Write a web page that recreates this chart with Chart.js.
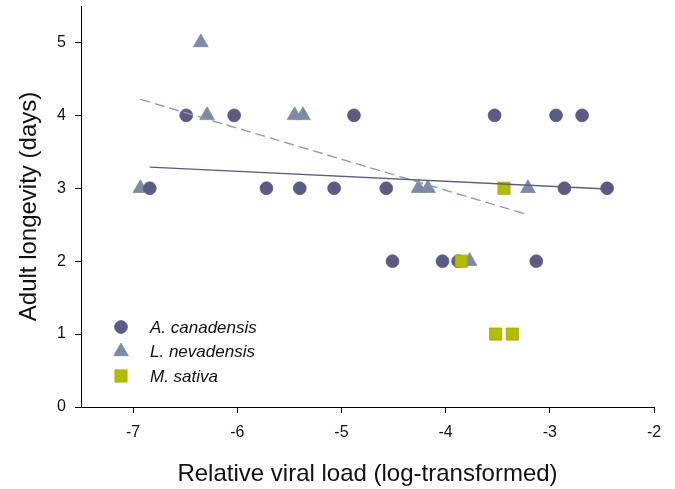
<!DOCTYPE html>
<html>
<head>
<meta charset="utf-8">
<script src="https://cdn.jsdelivr.net/npm/chart.js@4.4.1/dist/chart.umd.min.js"></script>
<style>
  html, body { margin: 0; padding: 0; background: #fff; }
  #wrap { width: 675px; height: 489px; position: relative; }
</style>
</head>
<body>
<div id="wrap"><canvas id="c" width="675" height="489"></canvas></div>
<script>
// Adult longevity (days) against relative viral load (log-transformed), by host plant species
const speciesNames = ['A. canadensis', 'L. nevadensis', 'M. sativa'];

const canadensisLoad = [-6.84, -6.49, -6.03, -5.72, -5.40, -5.07, -4.88, -4.57, -4.51, -4.03, -3.88, -3.53, -3.13, -2.94, -2.86, -2.69, -2.45];
const canadensisDays = [3, 4, 4, 3, 3, 3, 4, 3, 2, 2, 2, 4, 2, 4, 3, 4, 3];

const nevadensisLoad = [-6.93, -6.35, -6.29, -5.45, -5.37, -4.26, -4.17, -3.77, -3.21];
const nevadensisDays = [3, 5, 4, 4, 4, 3, 3, 2, 3];

const sativaLoad = [-3.85, -3.52, -3.44, -3.36];
const sativaDays = [2, 1, 3, 1];

// Fitted regression lines (end points)
const canadensisFitLoad = [-6.84, -2.45];
const canadensisFitDays = [3.29, 2.99];
const nevadensisFitLoad = [-6.93, -3.24];
const nevadensisFitDays = [4.22, 2.65];

const xTicks = [-7, -6, -5, -4, -3, -2];
const yTicks = [0, 1, 2, 3, 4, 5];

const toPoints = (xs, ys) => xs.map((x, i) => ({ x: x, y: ys[i] }));

const COL_CIRCLE = '#5b5b84';
const COL_TRI = '#7c8ba5';
const COL_SQ = '#b4bc00';
const FONT = 'Arial, "Liberation Sans", sans-serif';

// Legend drawn inside the plotting area
const innerLegend = {
  id: 'innerLegend',
  afterDatasetsDraw(chart) {
    const ctx = chart.ctx;
    const items = chart.data.datasets.filter(d => d.inLegend).sort((a, b) => a.legendIndex - b.legendIndex);
    const x0 = 121, textX = 150, y0 = 327, step = 24.5;
    ctx.save();
    items.forEach((ds, i) => {
      const y = y0 + i * step;
      ctx.fillStyle = ds.backgroundColor;
      ctx.strokeStyle = ds.borderColor;
      ctx.lineWidth = ds.borderWidth;
      Chart.helpers.drawPoint(ctx, {
        pointStyle: ds.pointStyle,
        radius: ds.pointRadius,
        borderWidth: ds.borderWidth
      }, x0, y);
      ctx.fillStyle = '#111';
      ctx.font = 'italic 17px ' + FONT;
      ctx.textBaseline = 'middle';
      ctx.textAlign = 'left';
      ctx.fillText(ds.label, textX, y + 1);
    });
    ctx.restore();
  }
};

new Chart(document.getElementById('c'), {
  type: 'scatter',
  data: {
    datasets: [
      {
        label: speciesNames[0] + ' fit',
        type: 'line',
        data: toPoints(canadensisFitLoad, canadensisFitDays),
        borderColor: COL_CIRCLE,
        borderWidth: 1.4,
        pointRadius: 0,
        showLine: true,
        fill: false,
        order: 0
      },
      {
        label: speciesNames[1] + ' fit',
        type: 'line',
        data: toPoints(nevadensisFitLoad, nevadensisFitDays),
        borderColor: '#8d9cbb',
        borderWidth: 1.4,
        borderDash: [10, 5],
        pointRadius: 0,
        showLine: true,
        fill: false,
        order: 0
      },
      {
        label: speciesNames[2],
        data: toPoints(sativaLoad, sativaDays),
        pointStyle: 'rect',
        pointRadius: 8.6,
        backgroundColor: COL_SQ,
        borderColor: '#a3aa00',
        borderWidth: 0.8,
        inLegend: true,
        legendIndex: 2,
        order: 1
      },
      {
        label: speciesNames[0],
        data: toPoints(canadensisLoad, canadensisDays),
        pointStyle: 'circle',
        pointRadius: 6.4,
        backgroundColor: COL_CIRCLE,
        borderColor: COL_CIRCLE,
        borderWidth: 0.8,
        inLegend: true,
        legendIndex: 0,
        order: 2
      },
      {
        label: speciesNames[1],
        data: toPoints(nevadensisLoad, nevadensisDays),
        pointStyle: 'triangle',
        pointRadius: 8.5,
        backgroundColor: COL_TRI,
        borderColor: COL_TRI,
        borderWidth: 0.8,
        inLegend: true,
        legendIndex: 1,
        order: 3
      }
    ]
  },
  options: {
    responsive: false,
    animation: false,
    devicePixelRatio: 1,
    layout: { autoPadding: false, padding: { top: 6, right: 21, left: 0, bottom: 0 } },
    plugins: {
      legend: { display: false },
      tooltip: { enabled: false }
    },
    scales: {
      x: {
        type: 'linear',
        min: -7.5,
        max: -2,
        afterFit(scale) {
          scale.height = 82;
          scale.paddingLeft = 0;
          scale.paddingRight = 0;
        },
        afterBuildTicks(scale) { scale.ticks = xTicks.map(v => ({ value: v })); },
        border: { display: true, color: '#000', width: 1 },
        grid: { drawOnChartArea: false, drawTicks: true, tickLength: 6, color: '#000' },
        ticks: { color: '#111', font: { family: FONT, size: 16 }, padding: 10, maxRotation: 0 },
        title: {
          display: true,
          text: 'Relative viral load (log-transformed)',
          color: '#111',
          font: { family: FONT, size: 24 },
          padding: { top: 0, bottom: 0 }
        }
      },
      y: {
        type: 'linear',
        min: 0,
        max: 5.5,
        afterFit(scale) {
          scale.width = 81;
          scale.paddingTop = 0;
          scale.paddingBottom = 0;
        },
        afterBuildTicks(scale) { scale.ticks = yTicks.map(v => ({ value: v })); },
        border: { display: true, color: '#000', width: 1 },
        grid: { drawOnChartArea: false, drawTicks: true, tickLength: 6, color: '#000' },
        ticks: { color: '#111', font: { family: FONT, size: 16 }, padding: 9 },
        title: {
          display: true,
          text: 'Adult longevity (days)',
          color: '#111',
          font: { family: FONT, size: 24 },
          padding: { top: 15, bottom: 0 }
        }
      }
    }
  },
  plugins: [innerLegend]
});
</script>
</body>
</html>
